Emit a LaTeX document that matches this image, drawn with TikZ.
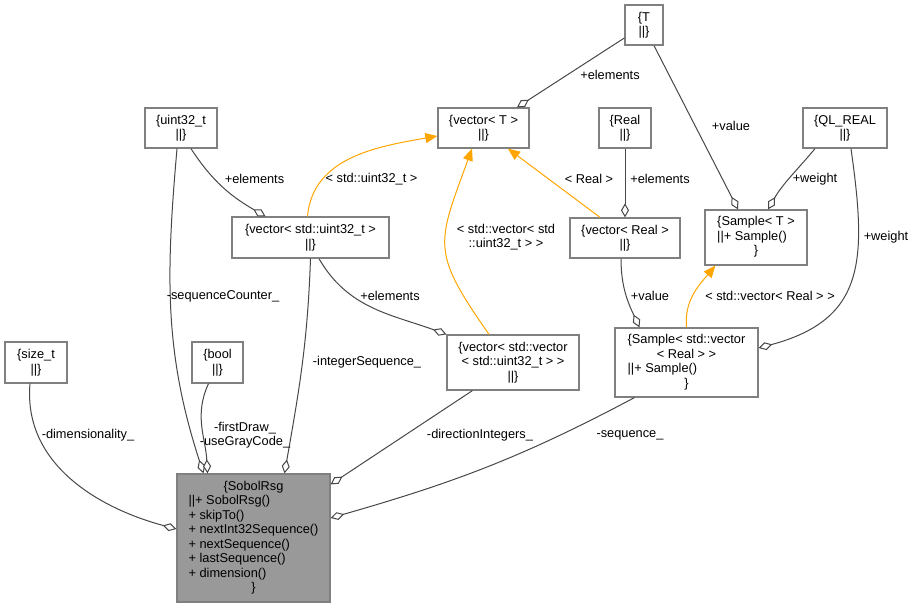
\documentclass[tikz,border=0pt]{standalone}
\usepackage{fontspec}
\setmainfont{Liberation Sans}
\usepackage{tikz}
\usetikzlibrary{arrows.meta}
\usetikzlibrary{shapes.misc}

\definecolor{tplorange}{HTML}{FFA500}

\begin{document}
\begin{tikzpicture}
  [x=1pt, y=-1pt,
  every node/.style={font=\fontsize{12.8}{14.5}\selectfont, inner sep=0pt},
  cls/.style={rectangle, draw=black!50, line width=1.3pt, fill=white, align=center, minimum height=40pt},
  member/.style={draw=black!72, line width=1pt, -{Diamond[fill=white, length=14pt, width=8pt]}},
  inherit/.style={draw=tplorange, line width=1pt, -{Triangle[length=12pt, width=10pt]}}]
\useasboundingbox (0,0) rectangle (913,608);

% classes
\node [cls, minimum width=38pt] (T) at (644,25) {\{T\\||\}};
\node [cls, minimum width=91pt] (vecT) at (483.5,128) {\{vector< T >\\||\}};
\node [cls, minimum width=72pt] (uint) at (181,128) {\{uint32\_t\\||\}};
\node [cls, minimum width=52pt] (real) at (625,128) {\{Real\\||\}};
\node [cls, minimum width=84pt] (qlreal) at (845,128) {\{QL\_REAL\\||\}};
\node [cls, minimum width=110pt] (vecReal) at (625,238) {\{vector< Real >\\||\}};
\node [cls, minimum width=102pt, minimum height=55pt] (sampleT) at (756,237.5)
  {\begin{tabular}{@{}l@{}}\{Sample< T >\\||+ Sample()\\\multicolumn{1}{@{}c@{}}{\}}\end{tabular}};
\node [cls, minimum width=157pt, minimum height=41pt] (vecUint) at (310.5,237.5) {\{vector< std::uint32\_t >\\||\}};
\node [cls, minimum width=62pt, minimum height=41pt] (sizet) at (36,362.5) {\{size\_t\\||\}};
\node [cls, minimum width=51pt, minimum height=41pt] (bool) at (217.5,362.5) {\{bool\\||\}};
\node [cls, minimum width=132pt, minimum height=55pt] (vecVec) at (513,362.5)
  {\{vector< std::vector\\< std::uint32\_t > >\\||\}};
\node [cls, minimum width=143pt, minimum height=69pt] (sampleVec) at (686.5,362.5)
  {\begin{tabular}{@{}l@{}}\{Sample< std::vector\\\multicolumn{1}{@{}c@{}}{< Real > >}\\||+ Sample()\\\multicolumn{1}{@{}c@{}}{\}}\end{tabular}};
\node [cls, fill=black!40, minimum width=153pt, minimum height=128pt] (sobol) at (253.5,538)
  {\begin{tabular}{@{}l@{}}\multicolumn{1}{@{}c@{}}{\{SobolRsg}\\||+ SobolRsg()\\+ skipTo()\\+ nextInt32Sequence()\\+ nextSequence()\\+ lastSequence()\\+ dimension()\\\multicolumn{1}{@{}c@{}}{\}}\end{tabular}};

% members
\draw [member] ([yshift=-13pt]T.west) -- ([xshift=33.5pt]vecT.north);
\draw [member] ([xshift=10pt]T.south) -- ([xshift=-18pt]sampleT.north);
\draw [member] ([xshift=-30pt]qlreal.south) to[out=-130, in=60] ([xshift=12pt]sampleT.north);
\draw [member] ([xshift=6pt]qlreal.south) to[out=-82, in=15, looseness=1.3] ([yshift=14.5pt]sampleVec.east);
\draw [member] (real) -- (vecReal);
\draw [member] ([xshift=-4pt]vecReal.south) to[out=-90, in=115] ([xshift=-47pt]sampleVec.north);
\draw [member] ([xshift=10pt]uint.south) to[out=-57, in=150] ([xshift=-45pt]vecUint.north);
\draw [member] ([xshift=8.5pt]vecUint.south) to[out=-60, in=160] (vecVec.north west);
\draw [member] ([xshift=-4pt]uint.south) to[out=-95, in=108] ([xshift=-50pt]sobol.north);
\draw [member] (vecUint.south) to[out=-92, in=80] ([xshift=31pt]sobol.north);
\draw [member] ([xshift=-9pt]bool.south) to[out=-115, in=93] ([xshift=-46pt]sobol.north);
\draw [member] ([xshift=-6pt]sizet.south) to[out=-95, in=165] ([yshift=9pt]sobol.west);
\draw [member] ([xshift=26pt]vecVec.south west) -- ([yshift=-11pt]sobol.north east);
\draw [member] ([xshift=20pt]sampleVec.south west) to[out=-152, in=16] ([yshift=20pt]sobol.east);

% templates
\draw [inherit] ([xshift=-25pt]vecReal.north) -- ([xshift=24.5pt]vecT.south);
\draw [inherit] (sampleVec.north) to[out=95, in=-130] ([xshift=11pt]sampleT.south west);
\draw [inherit] ([xshift=-3pt]vecUint.north) to[out=85, in=190] ([yshift=-8pt]vecT.west);
\draw [inherit] ([xshift=-24pt]vecVec.north) to[out=125, in=-110, looseness=1.4] ([xshift=-11.5pt]vecT.south);

% labels
\node (lTElem) at (610,75) {+elements};
\node (lTVal) at (731,126) {+value};
\node (lWeightT) at (815,179) {+weight};
\node (lWeightVec) at (886,237) {+weight};
\node (lRealElem) at (660,179) {+elements};
\node (lReal) at (589,179) {< Real >};
\node (lStdVec) at (770,296) {< std::vector< Real > >};
\node (lVecVal) at (650,296) {+value};
\node (lUintElem) at (254.5,179) {+elements};
\node (lUint) at (371.5,179) {< std::uint32\_t >};
\node [align=center] (lVecUint) at (506,237) {< std::vector< std\\::uint32\_t > >};
\node (lVecElem) at (390,296) {+elements};
\node (lSeqCnt) at (223,296) {-sequenceCounter\_};
\node (lIntSeq) at (367,362) {-integerSequence\_};
\node (lDim) at (88,435) {-dimensionality\_};
\node [align=center] (lFlags) at (245,435) {-firstDraw\_\\-useGrayCode\_};
\node (lDirInt) at (480,435) {-directionIntegers\_};
\node (lSeq) at (630,435) {-sequence\_};
\end{tikzpicture}
\end{document}
